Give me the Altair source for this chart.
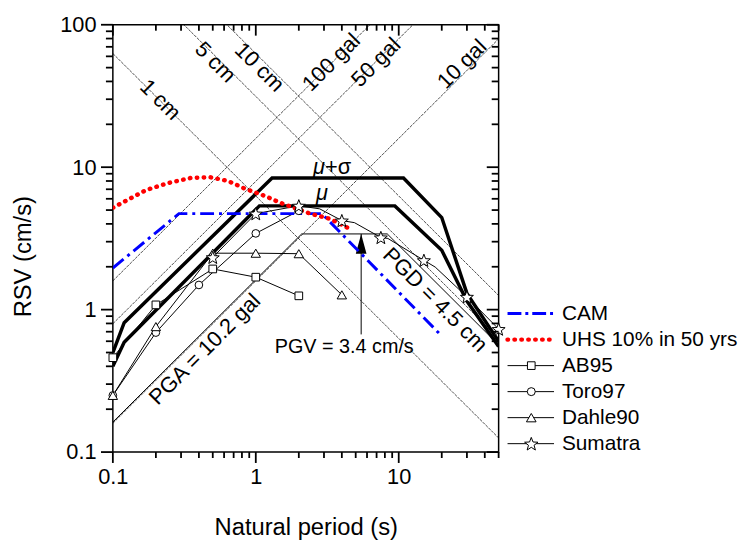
import altair as alt
import pandas as pd
import math

W, H = 390, 432
FONT = "Liberation Sans, Arial, sans-serif"

# ---------------- data ----------------
musig_T = [0.1, 0.12, 1.3, 10.8, 20, 30, 50]
musig_SV = [0.50, 0.81, 8.4, 8.4, 4.43, 1.3, 0.6]

mu_T = [0.1, 0.12, 1.06, 9.4, 20, 30, 50]
mu_SV = [0.40, 0.59, 5.35, 5.35, 2.61, 1.15, 0.55]

cam_T = [0.1, 0.29, 2.9, 19.5]
cam_SV = [1.96, 4.72, 4.72, 0.67]

uhs_T = [0.1, 0.123, 0.17, 0.244, 0.35, 0.48, 0.64, 0.83, 1.15, 1.5, 2.4, 3.3, 4.7]
uhs_SV = [5.19, 5.8, 6.9, 7.74, 8.4, 8.5, 8.0, 7.1, 6.3, 5.6, 4.72, 4.34, 3.63]

ab95_T = [0.1, 0.2, 0.5, 1, 2]
ab95_SV = [0.46, 1.08, 1.93, 1.69, 1.25]

toro_T = [0.1, 0.2, 0.4, 1, 2]
toro_SV = [0.25, 0.69, 1.49, 3.43, 4.94]

dahle_T = [0.1, 0.2, 0.5, 1, 2, 4]
dahle_SV = [0.25, 0.76, 2.49, 2.49, 2.47, 1.27]

sum_T = [0.5, 1.0, 2.0, 2.8, 4.0, 4.9, 7.5, 8.4, 15, 18, 30, 50]
sum_SV = [2.33, 4.72, 5.36, 5.1, 4.22, 4.08, 3.21, 3.16, 2.22, 1.99, 1.23, 0.73]
sum_star = [1, 1, 1, 0, 1, 0, 1, 0, 1, 0, 1, 1]

disp_cm = [1, 5, 10]
acc_gal = [100, 50, 10]
PGA, PGV, PGD = 10.2, 3.4, 4.5

arrow_T = 5.46
arrow_SV = [0.67, 3.4]

# annotation texts (label, T, SV, angle)
ann_text = ["1 cm", "5 cm", "10 cm", "100 gal", "50 gal", "10 gal",
            "PGA = 10.2 gal", "PGD = 4.5 cm", "PGV = 3.4 cm/s"]
ann_T = [0.215, 0.52, 1.06, 3.38, 6.93, 27.7, 0.44, 18.0, 4.16]
ann_SV = [29.7, 54.5, 50.3, 54.5, 54.5, 52.8, 0.527, 1.17, 0.545]
ann_angle = [45, 45, 45, -45, -45, -45, -45, 45, 0]
ann_size = [22, 22, 22, 22, 22, 22, 22, 22, 20]

legend_labels = ["CAM", "UHS 10% in 50 yrs", "AB95", "Toro97", "Dahle90", "Sumatra"]

T_MIN, T_MAX = 0.1, 50
SV_MIN, SV_MAX = 0.1, 100

x_major = [0.1, 1, 10]
x_minor = [round(m * 10 ** k, 6) for k in (-1, 0) for m in range(2, 10)] + [20, 30, 40, 50]
y_major = [0.1, 1, 10, 100]
y_minor = [round(m * 10 ** k, 6) for k in (-1, 0, 1) for m in range(2, 10)]

# star symbol path (shape only)
_pts = []
for k in range(10):
    r = 1.0 if k % 2 == 0 else 0.42
    ang = -math.pi / 2 + k * math.pi / 5
    _pts.append(f"{r * math.cos(ang):.3f},{r * math.sin(ang) + 0.1:.3f}")
STAR = "M" + "L".join(_pts) + "Z"

# ---------------- scales / axes ----------------
xs = alt.Scale(type="log", domain=[T_MIN, T_MAX], nice=False)
ys = alt.Scale(type="log", domain=[SV_MIN, SV_MAX], nice=False)

xaxis = alt.Axis(values=x_major, title="Natural period (s)", format="~g",
                 ticks=False, domain=False, labelFontSize=22, titleFontSize=24,
                 labelPadding=15, titleY=76, titleBaseline="middle",
                 labelOverlap=False, labelFlush=False, grid=False)
yaxis = alt.Axis(values=y_major, title="RSV (cm/s)", format="~g",
                 ticks=False, domain=False, labelFontSize=22, titleFontSize=24,
                 labelPadding=17, titleX=-90, titleY=234, titleAngle=-90,
                 titleBaseline="middle",
                 labelOverlap=False, labelFlush=False, grid=False)


def X(f="T"):
    return alt.X(f, type="quantitative", scale=xs, axis=xaxis)


def Y(f="SV"):
    return alt.Y(f, type="quantitative", scale=ys, axis=yaxis)


def line(T, SV, **kw):
    df = pd.DataFrame({"T": T, "SV": SV, "i": range(len(T))})
    return alt.Chart(df).mark_line(clip=True, **kw).encode(x=X(), y=Y(), order="i:Q")


def points(T, SV, shape, size, **kw):
    df = pd.DataFrame({"T": T, "SV": SV})
    return alt.Chart(df).mark_point(shape=shape, size=size, filled=True, fill="white",
                                    stroke="black", strokeWidth=1, opacity=1, **kw
                                    ).encode(x=X(), y=Y())


layers = []

# tripartite grid lines
rows = []
for d in disp_cm:
    for t in (T_MIN, T_MAX):
        rows.append({"name": f"d{d}", "T": t, "SV": 2 * math.pi * d / t})
for a in acc_gal:
    for t in (T_MIN, T_MAX):
        rows.append({"name": f"a{a}", "T": t, "SV": a * t / (2 * math.pi)})
grid_df = pd.DataFrame(rows)
layers.append(alt.Chart(grid_df).mark_line(clip=True, color="black", strokeWidth=0.7,
                                           strokeDash=[3, 1])
              .encode(x=X(), y=Y(), detail="name:N"))

# PGA / PGV / PGD envelope
T1 = 2 * math.pi * PGV / PGA
T2 = 2 * math.pi * PGD / PGV
env_T = [T_MIN, T1, T2, T_MAX]
env_SV = [PGA * T_MIN / (2 * math.pi), PGV, PGV, 2 * math.pi * PGD / T_MAX]
layers.append(line(env_T, env_SV, color="black", strokeWidth=1))

# thick mean lines
layers.append(line(musig_T, musig_SV, color="black", strokeWidth=3.5, strokeJoin="miter"))
layers.append(line(mu_T, mu_SV, color="black", strokeWidth=3.5, strokeJoin="miter"))

# thin series
for T, SV in ((ab95_T, ab95_SV), (toro_T, toro_SV), (dahle_T, dahle_SV), (sum_T, sum_SV)):
    layers.append(line(T, SV, color="black", strokeWidth=1))

# arrow for PGV
layers.append(alt.Chart(pd.DataFrame({"T": [arrow_T], "SV": [arrow_SV[0]], "SV2": [arrow_SV[1]]}))
              .mark_rule(color="black", strokeWidth=1)
              .encode(x=X(), y=Y(), y2="SV2:Q"))
layers.append(alt.Chart(pd.DataFrame({"T": [arrow_T], "SV": [arrow_SV[1]]}))
              .mark_point(shape="M0,0L0.27,1L-0.27,1Z", size=1600, filled=True,
                          color="black", opacity=1, strokeWidth=0)
              .encode(x=X(), y=Y()))

# CAM and UHS
layers.append(line(cam_T, cam_SV, color="#0000ff", strokeWidth=3,
                   strokeDash=[14, 5, 3, 5]))
layers.append(line(uhs_T, uhs_SV, color="#ff0000", strokeWidth=4.5,
                   strokeDash=[0.5, 6.5], strokeCap="round"))

# markers
layers.append(points(ab95_T, ab95_SV, "square", 60))
layers.append(points(toro_T, toro_SV, "circle", 60))
layers.append(points(dahle_T, dahle_SV, "triangle-up", 90))
st_T = [t for t, s in zip(sum_T, sum_star) if s]
st_SV = [v for v, s in zip(sum_SV, sum_star) if s]
layers.append(points(st_T, st_SV, STAR, 190))

# axis ticks as stroked symbol paths placed by the scales:
# x ticks point downward (outward at bottom, inward at top),
# y ticks point left (outward at left, inward at right)
xt_rows = [{"T": v, "SV": b} for v in x_major for b in (SV_MIN, SV_MAX)]
xt_rows_m = [{"T": v, "SV": b} for v in x_minor for b in (SV_MIN, SV_MAX)]
yt_rows = [{"T": b, "SV": v} for v in y_major for b in (T_MIN, T_MAX)]
yt_rows_m = [{"T": b, "SV": v} for v in y_minor for b in (T_MIN, T_MAX)]
for rws, shp, ln in ((xt_rows, "M0,0L0,1", 11), (xt_rows_m, "M0,0L0,1", 6),
                     (yt_rows, "M0,0L-1,0", 12), (yt_rows_m, "M0,0L-1,0", 7)):
    layers.append(alt.Chart(pd.DataFrame(rws))
                  .mark_point(shape=shp, size=(2 * ln) ** 2, filled=False,
                              stroke="black", strokeWidth=1.8, opacity=1, strokeCap="butt")
                  .encode(x=X(), y=Y()))

# annotation texts
for lab, t, v, ang, fs in zip(ann_text, ann_T, ann_SV, ann_angle, ann_size):
    layers.append(alt.Chart(pd.DataFrame({"T": [t], "SV": [v], "lab": [lab]}))
                  .mark_text(font=FONT, fontSize=fs, angle=ang % 360, align="center",
                             baseline="middle", color="black")
                  .encode(x=X(), y=Y(), text="lab:N"))

# mu labels
mu_lab = pd.DataFrame({"T": [3.05, 2.9], "SV": [10.0, 6.6], "lab": ["\u03bc", "\u03bc"]})
layers.append(alt.Chart(mu_lab.iloc[[0]]).mark_text(font=FONT, fontSize=22, fontStyle="italic",
                                                    align="right", baseline="middle")
              .encode(x=X(), y=Y(), text="lab:N"))
layers.append(alt.Chart(pd.DataFrame({"T": [3.05], "SV": [10.0], "lab": ["+\u03c3"]}))
              .mark_text(font=FONT, fontSize=22, align="left", baseline="middle")
              .encode(x=X(), y=Y(), text="lab:N"))
layers.append(alt.Chart(mu_lab.iloc[[1]]).mark_text(font=FONT, fontSize=22, fontStyle="italic",
                                                    align="center", baseline="middle")
              .encode(x=X(), y=Y(), text="lab:N"))

# ---------------- legend ----------------
one = alt.Data(values=[{"a": 1}])
LX0, LX1, LS, LT = 399, 446, 423, 454
LY0, LDY = 292, 26.3
styles = [
    dict(color="#0000ff", strokeWidth=3, strokeDash=[14, 4, 3, 4]),
    dict(color="#ff0000", strokeWidth=4.5, strokeDash=[0.5, 6.5], strokeCap="round"),
    dict(color="black", strokeWidth=1),
    dict(color="black", strokeWidth=1),
    dict(color="black", strokeWidth=1),
    dict(color="black", strokeWidth=1),
]
shapes = [None, None, ("square", 60), ("circle", 65), ("triangle-up", 95), (STAR, 200)]
for i, lab in enumerate(legend_labels):
    yy = LY0 + LDY * i
    layers.append(alt.Chart(one).mark_rule(**styles[i])
                  .encode(x=alt.value(LX0), x2=alt.value(LX1), y=alt.value(yy)))
    if shapes[i]:
        layers.append(alt.Chart(one).mark_point(shape=shapes[i][0], size=shapes[i][1], filled=True,
                                                fill="white", stroke="black", strokeWidth=1, opacity=1)
                      .encode(x=alt.value(LS), y=alt.value(yy)))
    layers.append(alt.Chart(one).mark_text(font=FONT, fontSize=21, align="left", baseline="middle",
                                           color="black")
                  .encode(x=alt.value(LT), y=alt.value(yy), text=alt.value(lab)))

chart = alt.layer(*layers).properties(
    width=W, height=H,
    autosize=alt.AutoSizeParams(type="none"),
    padding={"left": 106, "top": 14, "right": 243, "bottom": 91},
).configure_view(stroke="black", strokeWidth=1.5).configure_axis(
    labelColor="black", titleColor="black", labelFont=FONT, titleFont=FONT,
    titleFontWeight="normal",
)

chart.save("out.html", embed_options={"renderer": "svg", "actions": False})
